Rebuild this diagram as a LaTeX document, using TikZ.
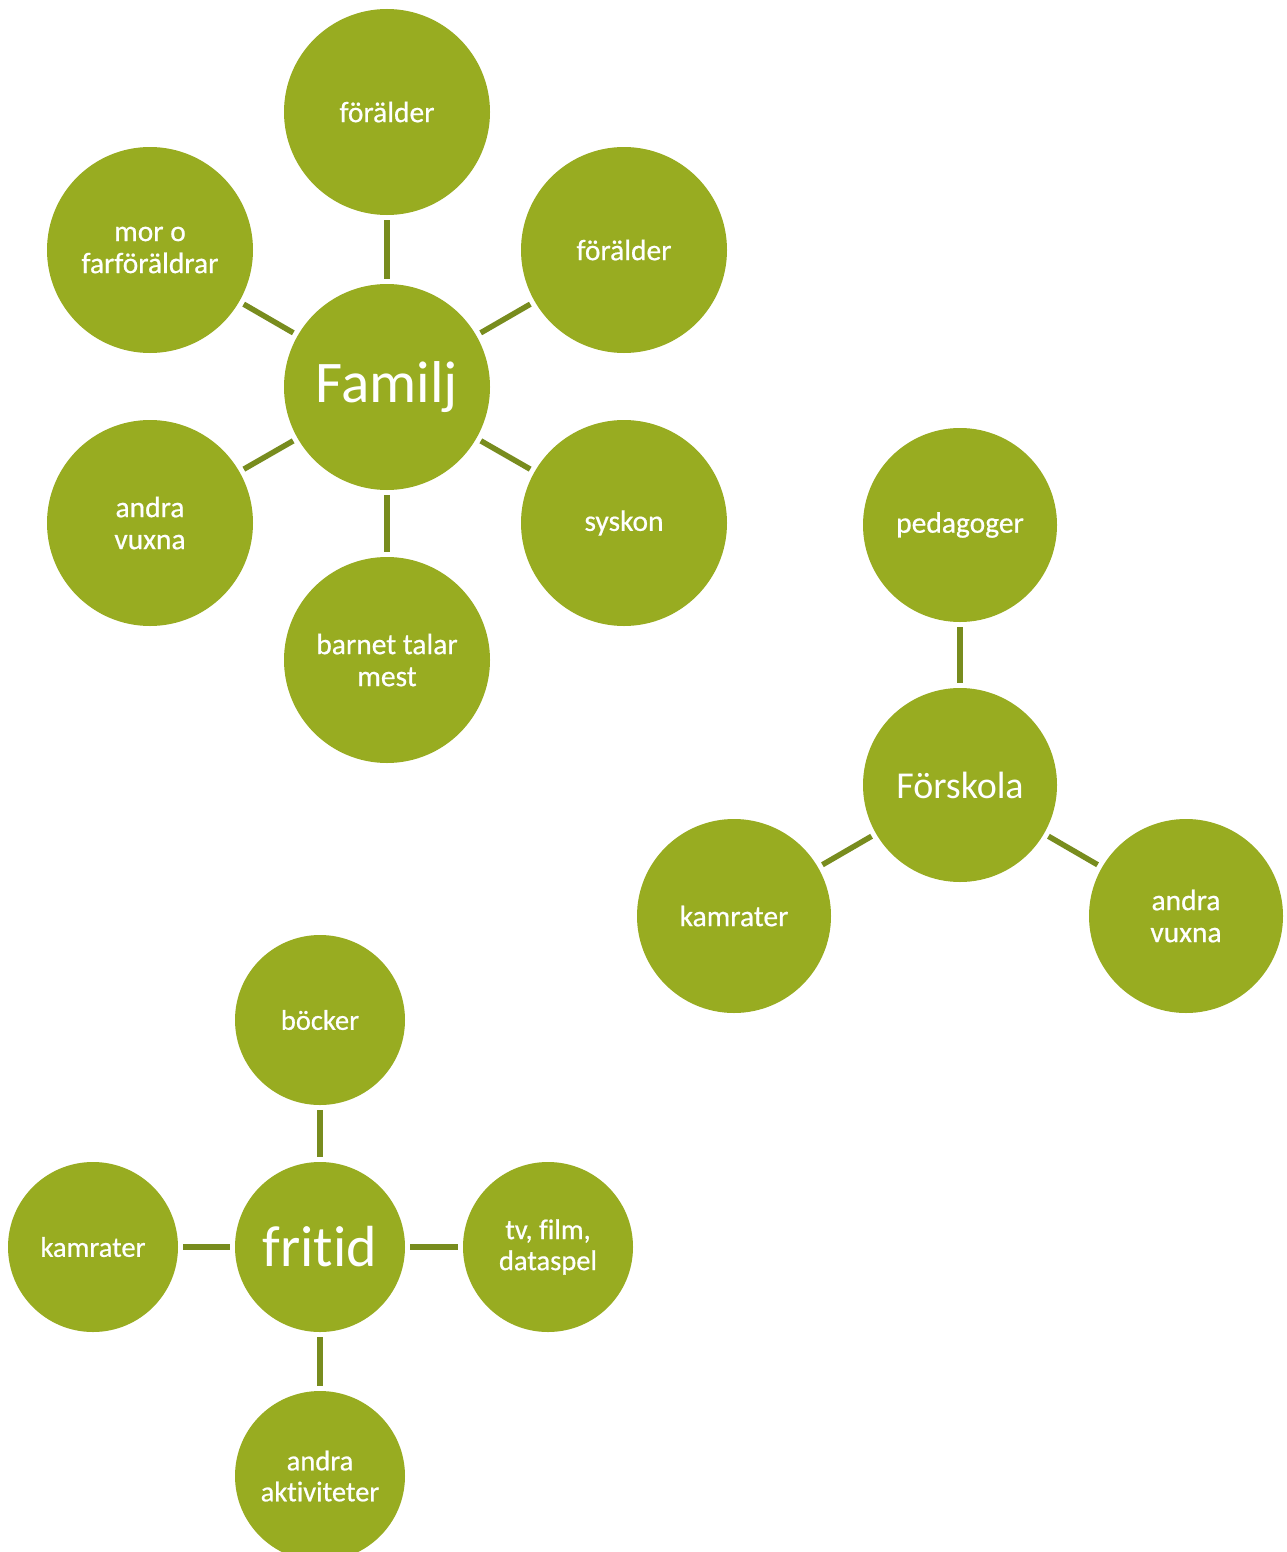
\documentclass[tikz,border=0pt]{standalone}
\usepackage{fontspec}
\setmainfont[Ligatures=NoCommon, FakeBold=0.6]{Carlito}
\newfontfamily\plainfont[Ligatures=NoCommon]{Carlito}
\definecolor{leaf}{RGB}{152,172,33}
\definecolor{stem}{RGB}{120,140,30}
\begin{document}
\begin{tikzpicture}[x=1pt,y=-1pt,
  bub/.style={circle, fill=leaf, text=white, align=center, inner sep=0pt,
    font=\fontsize{29.5}{32}\selectfont},
  bigbub/.style={bub, minimum size=206pt},
  midbub/.style={bub, minimum size=194pt},
  smlbub/.style={bub, minimum size=170pt, font=\fontsize{28.5}{31}\selectfont},
  conn/.style={draw=stem, line width=5.5pt, shorten <=5pt, shorten >=5pt}]
\useasboundingbox (0,0) rectangle (1287,1552);
\fill[white] (0,0) rectangle (1287,1552);
\clip (0,0) rectangle (1287,1552);

% Familj group
\node[bigbub, font=\plainfont\fontsize{59}{64}\selectfont] (familj) at (387,387) {Familj};
\node[bigbub] (f1) at (387,112) {förälder};
\node[bigbub] (f2) at (624,250) {förälder};
\node[bigbub] (f3) at (624,523) {syskon};
\node[bigbub] (f4) at (387,660) {barnet talar\\mest};
\node[bigbub] (f5) at (150,523) {andra\\vuxna};
\node[bigbub] (f6) at (150,250) {mor o\\farföräldrar};
\foreach \n in {f1,f2,f3,f4,f5,f6} \draw[conn] (familj) -- (\n);

% Förskola group
\node[midbub, font=\plainfont\fontsize{38}{42}\selectfont] (forskola) at (960,785) {Förskola};
\node[midbub] (s1) at (960,525) {pedagoger};
\node[midbub] (s2) at (734,916) {kamrater};
\node[midbub] (s3) at (1186,916) {andra\\vuxna};
\foreach \n in {s1,s2,s3} \draw[conn] (forskola) -- (\n);

% fritid group
\node[smlbub, font=\plainfont\fontsize{58}{64}\selectfont] (fritid) at (320,1247) {fritid};
\node[smlbub] (t1) at (320,1020) {böcker};
\node[smlbub] (t2) at (93,1247) {kamrater};
\node[smlbub] (t3) at (548,1247) {tv, film,\\dataspel};
\node[smlbub] (t4) at (320,1476) {andra\\aktiviteter};
\foreach \n in {t1,t2,t3,t4} \draw[conn] (fritid) -- (\n);
\end{tikzpicture}
\end{document}
